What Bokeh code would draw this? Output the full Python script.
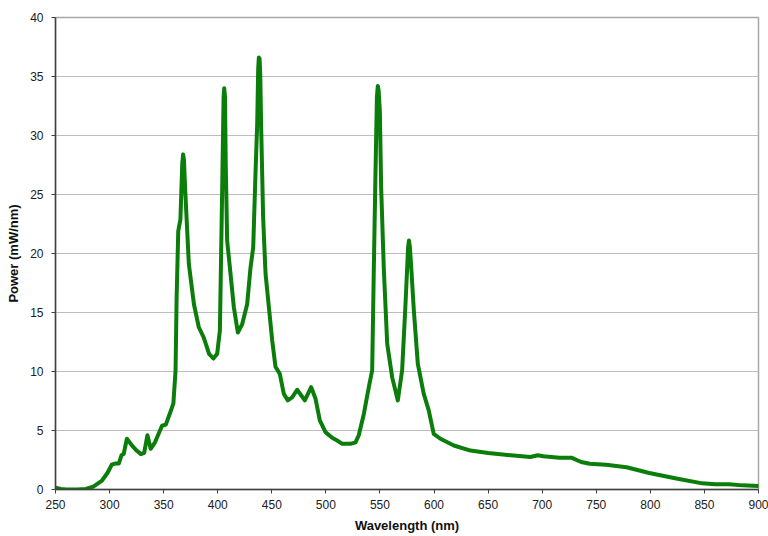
from bokeh.plotting import figure
from bokeh.models import Range1d, FixedTicker
from bokeh.embed import file_html
from bokeh.resources import INLINE

wavelength_nm = [250, 255, 260, 270, 278, 285, 293, 298, 302, 305, 308.5, 311, 313, 316, 321, 325, 329, 332,
                 335, 338, 342, 348.5, 352, 356, 359, 361, 362, 363.5, 365.5, 367.2, 368, 368.8, 369.8, 373.3,
                 378, 382.5, 387, 392, 396, 399.5, 402, 404, 405.4, 406, 406.7, 407.4, 408.7, 411.8, 414.9,
                 418.6, 422.6, 427.2, 430.3, 432.8, 434.9, 436.5, 437.4, 438, 438.7, 439.3, 440.2, 442,
                 444.2, 447.3, 450.4, 453.4, 457.4, 461.1, 464.8, 468.8, 473.4, 480.5, 486.4, 490.4, 494.4,
                 499.6, 505.8, 510.4, 515.1, 522.7, 527.4, 530.4, 535.1, 539.7, 542.8, 544.3, 545.9, 547.2,
                 548, 548.8, 549.9, 551.1, 553.6, 556.7, 561.3, 566.5, 570.5, 573.6, 576, 576.8, 577.6,
                 578.8, 581.3, 585, 590.5, 595.1, 599.7, 605.9, 618.3, 633.7, 650, 671, 689, 696, 701, 716,
                 727, 736, 744, 759, 778, 799, 824, 848, 860, 873, 885, 900]
power_mw_nm = [0.15, 0.05, 0.0, 0.0, 0.05, 0.25, 0.76, 1.4, 2.1, 2.2, 2.2, 2.9, 3.0, 4.3, 3.7, 3.3, 3.0, 3.1,
               4.6, 3.45, 4.0, 5.4, 5.5, 6.5, 7.3, 10.1, 16.3, 21.9, 22.9, 27.6, 28.4, 27.9, 25.6, 19.1,
               15.7, 13.75, 12.9, 11.5, 11.1, 11.5, 13.5, 24.8, 33.2, 34.0, 33.3, 27.6, 21.1, 18.3, 15.45,
               13.3, 14.0, 15.7, 18.8, 20.5, 26.75, 31.0, 35.6, 36.6, 36.5, 35.2, 30.5, 23.0,
               18.3, 15.45, 12.6, 10.4, 9.8, 8.1, 7.55, 7.8, 8.45, 7.55, 8.67, 7.7, 5.85,
               4.86, 4.38, 4.15, 3.87, 3.87, 4.0, 4.6, 6.4, 8.67, 10.1, 18.6, 27.0, 33.3,
               34.2, 33.8, 32.0, 25.6, 18.6, 12.35, 9.5, 7.55, 10.1, 15.7, 20.5, 21.1, 20.6,
               19.0, 15.2, 10.65, 8.1, 6.7, 4.72, 4.3, 3.73, 3.3, 3.1, 2.9, 2.76, 2.9, 2.82, 2.7,
               2.7, 2.33, 2.18, 2.09, 1.89, 1.4, 0.93, 0.52, 0.44, 0.44, 0.35, 0.29]
x_ticks = list(range(250, 901, 50))
y_ticks = list(range(0, 41, 5))

p = figure(width=768, height=536, output_backend="svg", toolbar_location=None,
           x_range=Range1d(250, 900), y_range=Range1d(0, 40),
           min_border_left=55, min_border_right=10, min_border_top=17, min_border_bottom=47)
p.background_fill_color = "white"
p.border_fill_color = "white"
p.outline_line_color = "#a8a8a8"
p.outline_line_width = 1.5

p.xgrid.grid_line_color = None
p.ygrid.grid_line_color = "#bdbdbd"
p.ygrid.grid_line_width = 1.2

for ax in (p.xaxis[0], p.yaxis[0]):
    ax.axis_line_color = "#404040"
    ax.axis_line_width = 1.5
    ax.major_tick_line_color = "#404040"
    ax.major_tick_in = 0
    ax.major_tick_out = 4
    ax.minor_tick_line_color = None
    ax.major_label_text_font = "Liberation Sans"
    ax.major_label_text_font_size = "12px"
    ax.major_label_text_color = "#202020"
    ax.axis_label_text_font = "Liberation Sans"
    ax.axis_label_text_font_size = "13px"
    ax.axis_label_text_font_style = "bold"
    ax.axis_label_text_color = "#101010"

p.xaxis.ticker = FixedTicker(ticks=x_ticks)
p.yaxis.ticker = FixedTicker(ticks=y_ticks)
p.xaxis.axis_label = "Wavelength (nm)"
p.yaxis.axis_label = "Power (mW/nm)"
p.xaxis.major_label_standoff = 6
p.yaxis.major_label_standoff = 8
p.xaxis.axis_label_standoff = 6
p.yaxis.axis_label_standoff = 6

p.line(wavelength_nm, power_mw_nm, line_color="#0a7d0a", line_width=4,
       line_join="round", line_cap="round")

open("out.html", "w").write(file_html(p, INLINE))
